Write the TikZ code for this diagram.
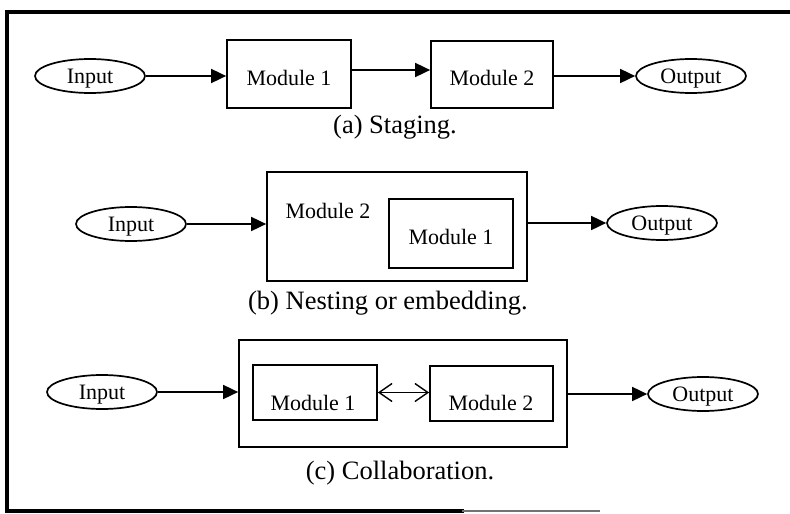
\documentclass[tikz,border=0pt]{standalone}
\usepackage{fontspec}
\setmainfont{Liberation Serif}
\usetikzlibrary{arrows.meta,shapes.geometric}

\tikzset{
  modbox/.style={draw, line width=1.7pt, inner sep=0pt},
  io/.style={draw, ellipse, line width=1.7pt, inner sep=0pt,
             minimum width=110pt, minimum height=34pt,
             text height=15pt, text depth=0pt,
             font=\fontsize{22}{24}\selectfont},
  lbl/.style={inner sep=0pt, font=\fontsize{22}{24}\selectfont},
  caption/.style={inner sep=0pt, font=\fontsize{26.5}{30}\selectfont},
  flow/.style={line width=1.7pt, -{Triangle[length=15pt,width=14pt]}},
  mutual/.style={line width=1.4pt,
                 {Straight Barb[length=13pt,width=18pt,line width=1.4pt]}-{Straight Barb[length=13pt,width=18pt,line width=1.4pt]}},
  frame/.style={line width=3.4pt, line cap=rect}
}

\begin{document}
\begin{tikzpicture}[x=1pt, y=-1pt]
\useasboundingbox (0,0) rectangle (790,514);

% frame
\coordinate (ftl) at (7,12);
\coordinate (ftr) at (790,12);
\coordinate (fbl) at (7,511);
\coordinate (fbm) at (462,511);
\coordinate (fbr) at (600,511);
\draw[frame] (ftr) -- (ftl) -- (fbl) -- (fbm);
\draw[line width=2.6pt, black!55] (fbm) -- (fbr);

% (a) staging
\node[io] (inA) at (90,76) {Input};
\node[modbox, minimum width=124pt, minimum height=68pt] (m1A) at (289,74) {};
\node[lbl] at (289,78) {Module 1};
\node[modbox, minimum width=122pt, minimum height=67pt] (m2A) at (492,74.5) {};
\node[lbl] at (492,78) {Module 2};
\node[io] (outA) at (691,76) {Output};
\node[caption] (capA) at (395,127) {(a) Staging.};
\draw[flow] (inA.east) -- (inA.east -| m1A.west);
\draw[flow] ([yshift=4pt]m1A.east) -- ([yshift=4pt]m1A.east -| m2A.west);
\draw[flow] (m2A.east |- outA.west) -- (outA.west);

% (b) nesting or embedding
\node[io] (inB) at (131,224) {Input};
\node[modbox, minimum width=260pt, minimum height=109pt] (m2B) at (397,226.5) {};
\node[lbl] (m2Blbl) at (328,211) {Module 2};
\node[modbox, minimum width=124pt, minimum height=69pt] (m1B) at (451,233.5) {};
\node[lbl] at (451,237) {Module 1};
\node[io] (outB) at (662,223) {Output};
\node[caption] (capB) at (388,303) {(b) Nesting or embedding.};
\draw[flow] (inB.east) -- (inB.east -| m2B.west);
\draw[flow] (m2B.east |- outB.west) -- (outB.west);

% (c) collaboration
\node[io] (inC) at (102,392) {Input};
\node[modbox, minimum width=328pt, minimum height=107pt] (grpC) at (403,393.5) {};
\node[modbox, minimum width=124pt, minimum height=55pt] (m1C) at (315,392.5) {};
\node[lbl] at (313,403) {Module 1};
\node[modbox, minimum width=123pt, minimum height=55pt] (m2C) at (491.5,393.5) {};
\node[lbl] at (491,403) {Module 2};
\node[io] (outC) at (703,394) {Output};
\node[caption] (capC) at (400,473) {(c) Collaboration.};
\draw[flow] (inC.east) -- (inC.east -| grpC.west);
\draw[mutual] (m1C.east) -- (m1C.east -| m2C.west);
\draw[flow] (grpC.east |- outC.west) -- (outC.west);
\end{tikzpicture}
\end{document}
